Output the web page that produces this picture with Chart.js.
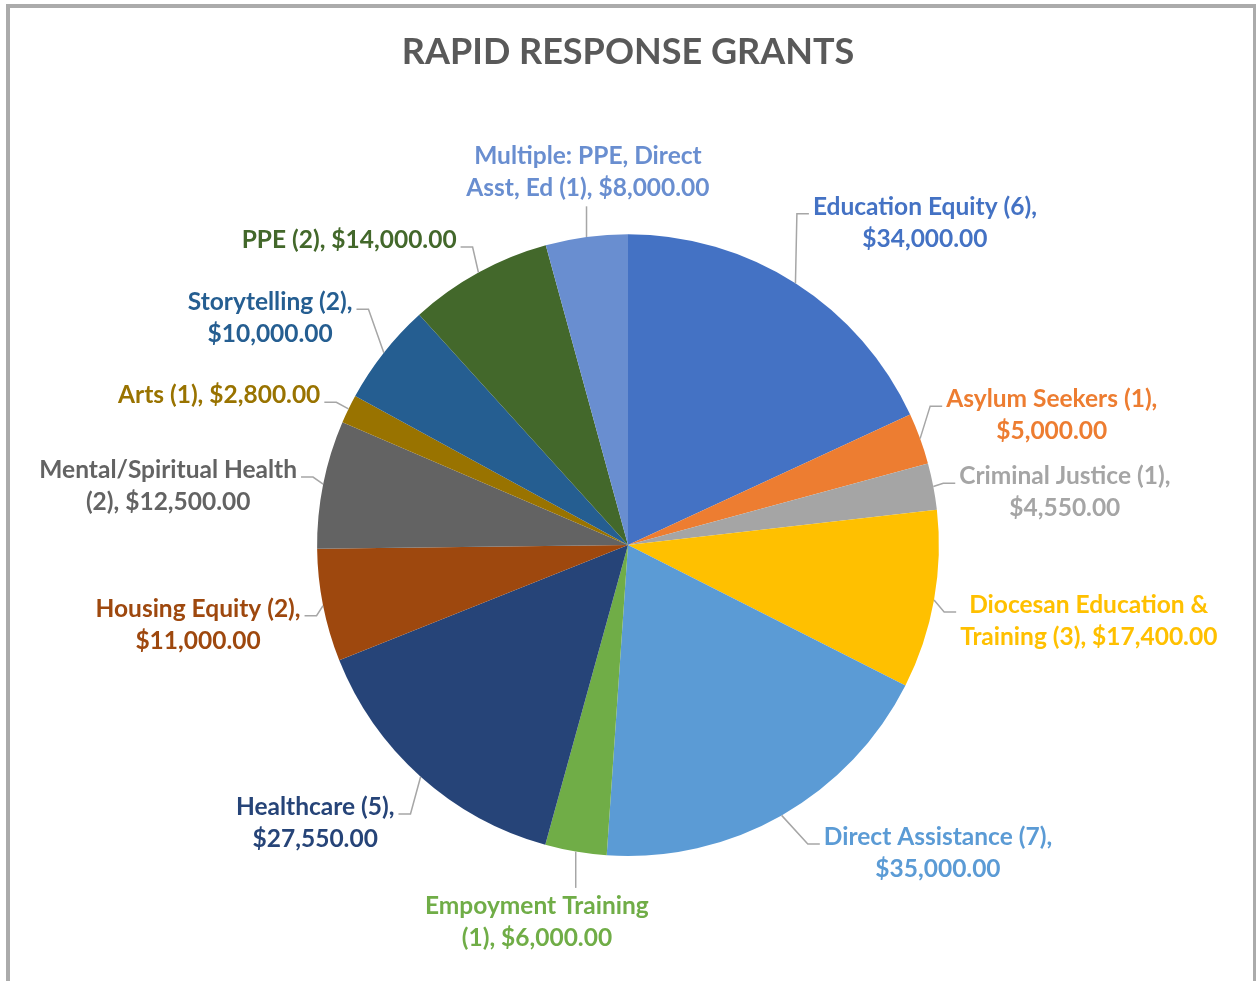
<!DOCTYPE html>
<html>
<head>
<meta charset="utf-8">
<script src="https://cdn.jsdelivr.net/npm/chart.js@4.4.1/dist/chart.umd.min.js"></script>
<style>
  body { margin: 0; background: #fff; overflow: hidden; }
  #wrap { position: relative; width: 1257px; height: 981px; }
  #frame { position: absolute; left: 6px; top: 4px; width: 1250px; height: 1000px; box-sizing: border-box;
           border: 4px solid #ababab; border-right-width: 3px; pointer-events: none; }
</style>
</head>
<body>
<div id="wrap">
  <canvas id="grants" width="1257" height="981"></canvas>
  <div id="frame"></div>
</div>
<script>
// grant categories, clockwise from 12 o'clock
const categories = ["Education Equity", "Asylum Seekers", "Criminal Justice", "Diocesan Education & Training",
  "Direct Assistance", "Empoyment Training", "Healthcare", "Housing Equity", "Mental/Spiritual Health",
  "Arts", "Storytelling", "PPE", "Multiple: PPE, Direct Asst, Ed"];
const grantCounts = [6, 1, 1, 3, 7, 1, 5, 2, 2, 1, 2, 2, 1];
const amounts = [34000, 5000, 4550, 17400, 35000, 6000, 27550, 11000, 12500, 2800, 10000, 14000, 8000];
const colors = ["#4472C4", "#ED7D31", "#A5A5A5", "#FFC000", "#5B9BD5", "#70AD47", "#264478",
  "#9E480E", "#636363", "#997300", "#255E91", "#43682B", "#698ED0"];

// words on the first line of each label (0 = single line)
const firstLineWords = [3, 3, 3, 3, 3, 2, 2, 3, 2, 0, 2, 0, 3];
// label centre, relative to pie centre, in units of the radius
const labelOffsets = [[0.955, -1.037], [1.363, -0.418], [1.405, -0.170], [1.482, 0.244], [0.997, 0.990],
  [-0.293, 1.212], [-1.006, 0.894], [-1.383, 0.256], [-1.479, -0.190], [-1.315, -0.482],
  [-1.151, -0.730], [-0.897, -0.981], [-0.129, -1.199]];

const money = v => "$" + v.toLocaleString("en-US", { minimumFractionDigits: 2, maximumFractionDigits: 2 });

const labelFont = "bold 24.5px Lato";
const lineH = 32;

const sliceLabels = {
  id: "sliceLabels",
  afterDatasetsDraw(chart) {
    const ctx = chart.ctx;
    const meta = chart.getDatasetMeta(0);
    ctx.save();
    ctx.font = labelFont;
    ctx.textAlign = "center";
    ctx.textBaseline = "middle";
    meta.data.forEach((arc, i) => {
      const { x, y, startAngle, endAngle, outerRadius } =
        arc.getProps(["x", "y", "startAngle", "endAngle", "outerRadius"], true);
      const mid = (startAngle + endAngle) / 2;
      const ax = x + Math.cos(mid) * outerRadius, ay = y + Math.sin(mid) * outerRadius;

      const words = (categories[i] + " (" + grantCounts[i] + "), " + money(amounts[i])).split(" ");
      const n = firstLineWords[i];
      const lines = n ? [words.slice(0, n).join(" "), words.slice(n).join(" ")] : [words.join(" ")];

      const cx = x + labelOffsets[i][0] * outerRadius;
      const cy = y + labelOffsets[i][1] * outerRadius;
      const w = Math.max(...lines.map(l => ctx.measureText(l).width));
      const top = cy - lines.length * lineH / 2;
      const left = cx - w / 2, right = cx + w / 2;

      // leader line
      ctx.strokeStyle = "#A6A6A6";
      ctx.lineWidth = 1.5;
      ctx.beginPath();
      if (ax > left && ax < right) {
        const ty = ay > cy ? top + lines.length * lineH + 2 : top - 2;
        ctx.moveTo(ax, ty);
        ctx.lineTo(ax, ay);
      } else {
        const side = ax > cx ? 1 : -1;
        const px = side > 0 ? right + 4 : left - 4;
        const py = top + lineH / 2 + 7;
        ctx.moveTo(px, py);
        ctx.lineTo(px + side * 12, py);
        ctx.lineTo(ax, ay);
      }
      ctx.stroke();

      ctx.fillStyle = colors[i];
      lines.forEach((l, k) => ctx.fillText(l, cx, top + lineH / 2 + k * lineH));
    });
    ctx.restore();
  }
};

new Chart(document.getElementById("grants"), {
  type: "pie",
  data: {
    labels: categories,
    datasets: [{ data: amounts, backgroundColor: colors, borderWidth: 0 }]
  },
  options: {
    responsive: false,
    animation: false,
    layout: { padding: { top: 10, left: 317, right: 318, bottom: 125 } },
    plugins: {
      legend: { display: false },
      tooltip: { enabled: false },
      title: {
        display: true,
        text: "RAPID RESPONSE GRANTS",
        color: "#595959",
        font: { family: "Lato", size: 36, weight: "bold", lineHeight: 1.2 },
        padding: { top: 21, bottom: 160 }
      }
    }
  },
  plugins: [sliceLabels]
});
</script>
</body>
</html>
